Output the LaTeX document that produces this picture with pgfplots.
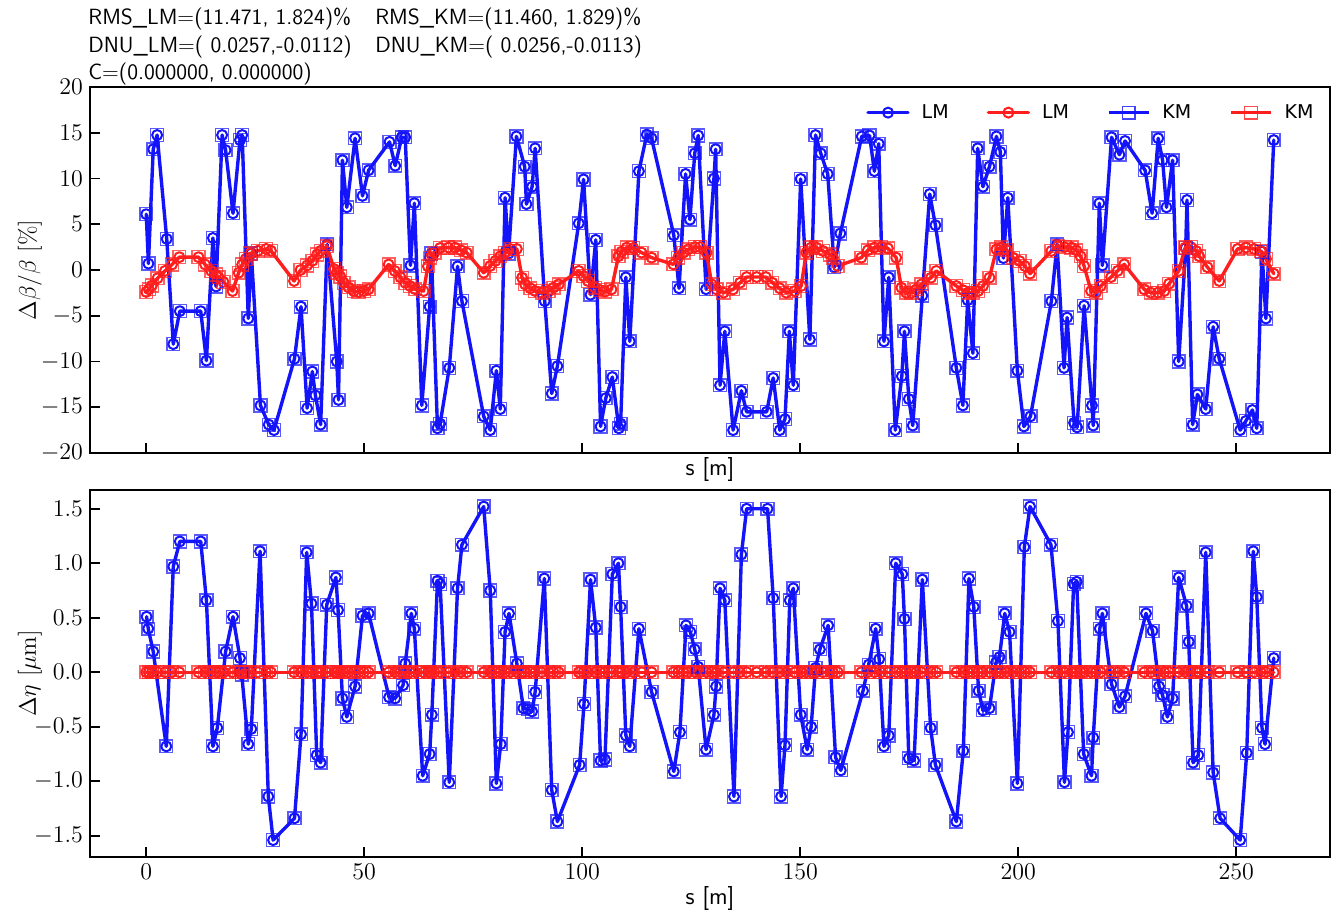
\documentclass[border=0pt]{standalone}
\usepackage{fontspec}
\usepackage{pgfplots}
\usepackage{pgfplotstable}
\pgfplotsset{compat=1.18}
\newfontfamily\legfont{DejaVu Sans}

\definecolor{lmblue}{RGB}{20,20,250}
\definecolor{lmred}{RGB}{255,30,30}

% beta-beating, blue set (s [m], dbeta/beta [%])
\pgfplotstableread{
s d
0.0 6.1
0.5 0.7
1.6 13.2
2.5 14.75
4.7 3.4
6.2 -8.1
7.7 -4.5
12.5 -4.5
13.8 -9.9
15.3 3.5
16.0 -1.8
17.4 14.75
18.2 13.1
19.9 6.2
21.5 14.2
22.0 14.75
23.4 -5.3
24.1 1.8
26.2 -14.8
28.1 -16.9
29.3 -17.5
34.0 -9.7
35.5 -4.0
36.9 -15.1
38.1 -11.1
38.8 -13.7
40.0 -16.9
41.5 2.8
43.7 -10.0
44.1 -14.2
45.0 12.0
46.0 6.85
47.9 14.4
49.6 8.1
51.0 10.9
55.8 14.0
57.1 11.4
58.6 14.5
59.4 14.5
60.6 0.5
61.5 7.3
63.2 -14.8
65.0 -4.0
65.4 1.8
66.8 -17.3
67.4 -16.8
69.5 -10.7
71.4 0.4
72.4 -3.4
77.4 -16.0
78.9 -17.5
80.3 -11.0
81.2 -15.2
82.3 7.9
83.1 1.8
84.9 14.6
86.8 11.3
87.2 7.2
88.5 9.1
89.2 13.3
91.4 -3.4
93.0 -13.5
94.3 -10.5
99.2 5.1
100.3 9.9
101.9 -2.7
103.1 3.3
104.2 -17.1
105.4 -14.0
106.9 -11.7
108.4 -17.3
108.8 -16.8
110.0 -0.8
110.9 -7.8
113.0 10.8
114.8 14.8
115.9 14.4
121.0 3.8
122.2 -2.0
123.7 10.5
124.7 5.5
125.8 12.75
126.6 14.7
128.4 -2.1
130.2 10.0
130.6 13.2
131.6 -12.6
132.7 -6.7
134.6 -17.5
136.5 -13.2
137.7 -15.5
142.3 -15.5
143.8 -11.8
145.3 -17.5
146.5 -16.3
147.5 -6.7
148.4 -12.6
150.1 9.95
152.2 -7.6
153.5 14.75
154.7 12.75
156.3 10.5
157.8 0.3
159.2 4.0
164.1 14.6
165.9 14.7
167.0 10.8
168.0 13.8
169.2 -7.8
170.3 -0.8
171.8 -17.5
173.3 -11.6
173.9 -6.7
174.9 -14.1
175.8 -17.0
178.0 -2.8
179.7 8.3
181.0 4.9
185.8 -10.7
187.3 -14.8
188.4 -3.3
189.6 -9.1
190.7 13.3
191.9 9.1
193.4 11.3
195.0 14.6
195.9 12.9
196.6 1.3
197.6 7.9
199.8 -11.0
201.3 -17.1
202.8 -16.0
207.6 -3.4
208.9 2.8
210.5 -10.7
211.2 -5.2
212.8 -16.7
213.5 -17.2
215.1 -3.9
216.9 -14.8
217.2 -17.0
218.6 7.3
219.3 0.5
221.4 14.5
223.2 12.6
224.5 14.1
229.1 10.9
230.7 6.2
232.1 14.4
233.1 12.0
234.0 6.85
235.4 12.0
236.8 -10.0
238.4 2.4
238.7 7.65
240.0 -16.9
241.1 -13.6
243.0 -15.2
244.7 -6.2
246.1 -9.7
250.9 -17.5
252.2 -16.5
253.7 -15.3
254.7 -17.3
255.9 2.0
256.8 -5.3
258.6 14.2
}\topblue

% beta-beating, red set
\pgfplotstableread{
s d
0.0 -2.4
0.6 -2.1
1.3 -1.7
2.6 -0.9
4.3 -0.1
5.9 0.6
7.6 1.4
12.0 1.4
13.5 0.6
14.9 -0.1
16.0 -0.5
16.6 -0.8
17.7 -1.3
19.8 -2.3
21.2 -0.3
22.0 0.6
22.8 1.2
23.8 1.8
25.6 2.1
27.5 2.3
28.6 2.1
33.9 -1.2
35.4 0.0
36.9 0.5
38.1 1.0
39.2 1.7
40.0 2.1
41.4 2.6
43.1 0.1
43.7 -0.3
44.5 -0.7
45.3 -1.4
46.4 -1.9
47.6 -2.3
48.7 -2.4
49.9 -2.3
51.0 -2.1
55.6 0.6
57.0 -0.1
58.3 -0.8
59.4 -1.4
60.5 -1.75
61.7 -2.1
63.6 -2.3
64.6 0.4
65.1 1.35
66.1 1.9
67.4 2.4
69.3 2.45
70.8 2.45
72.2 2.15
73.5 1.9
77.4 -0.3
78.9 0.44
80.1 1.0
81.2 1.5
82.3 1.9
83.5 2.3
85.0 2.3
86.2 -0.84
86.9 -1.57
88.1 -2.0
89.2 -2.3
90.7 -2.48
92.3 -2.3
93.4 -1.93
94.6 -1.57
99.2 -0.1
100.3 -0.66
101.3 -1.2
102.9 -1.93
104.1 -2.2
105.2 -2.37
106.7 -2.12
108.3 1.5
109.0 2.0
110.2 2.45
111.7 2.4
113.6 1.9
115.9 1.35
120.9 0.62
122.0 1.35
123.2 1.9
124.3 2.26
125.9 2.5
127.0 2.5
128.5 1.9
129.7 -1.57
130.8 -2.12
132.4 -2.48
134.6 -2.12
136.2 -1.39
137.7 -0.77
140.0 -0.77
142.1 -0.77
143.6 -1.39
145.3 -2.0
146.8 -2.48
148.7 -2.3
150.2 -1.75
151.4 1.9
152.5 2.45
153.7 2.45
155.2 2.08
156.8 1.7
157.5 1.35
158.6 0.44
164.0 1.35
165.5 2.15
167.0 2.45
168.6 2.5
170.1 2.37
172.0 1.35
173.2 -1.93
174.3 -2.48
175.5 -2.48
176.6 -2.12
177.8 -1.57
180.0 -0.84
181.2 -0.1
185.8 -1.75
187.3 -2.2
188.5 -2.48
189.6 -2.48
190.8 -2.3
191.9 -1.75
193.4 -0.84
195.0 2.26
196.1 2.45
197.3 2.2
198.8 1.35
200.3 0.98
201.5 0.44
202.7 -0.4
207.6 2.08
209.1 2.6
210.6 2.5
212.2 2.45
213.3 2.15
214.3 1.5
215.1 0.44
216.7 -2.3
217.8 -2.48
218.9 -1.75
221.3 -0.77
222.8 -0.1
224.3 0.62
228.9 -2.12
230.4 -2.48
232.0 -2.48
233.5 -2.3
234.6 -1.5
236.8 -0.1
238.3 2.45
239.6 2.5
240.8 2.08
241.5 1.5
243.4 0.3
246.1 -1.2
250.3 2.3
252.2 2.45
254.1 2.3
255.6 2.08
256.8 1.2
258.6 -0.4
}\topred

% dispersion error, blue set (s [m], d eta [um])
\pgfplotstableread{
s d
0.08 0.51
0.46 0.40
1.6 0.19
4.6 -0.68
6.2 0.97
7.7 1.20
12.5 1.20
13.8 0.66
15.3 -0.68
16.3 -0.51
18.2 0.19
19.9 0.51
21.5 0.13
21.9 -0.02
23.4 -0.66
24.1 -0.52
26.1 1.11
28.0 -1.14
29.1 -1.54
34.0 -1.34
35.5 -0.57
36.8 1.10
37.9 0.63
39.1 -0.76
40.0 -0.83
41.4 0.62
43.5 0.87
44.0 0.57
45.0 -0.24
46.0 -0.41
47.9 -0.13
49.6 0.52
51.0 0.54
55.7 -0.23
57.1 -0.24
58.9 -0.12
59.4 0.08
60.8 0.54
61.5 0.40
63.4 -0.95
65.0 -0.75
65.5 -0.39
66.8 0.84
67.4 0.81
69.5 -1.01
71.4 0.77
72.4 1.17
77.4 1.52
78.9 0.75
80.3 -1.02
81.3 -0.66
82.3 0.37
83.2 0.54
85.0 0.08
86.5 -0.33
87.5 -0.34
88.5 -0.36
89.2 -0.18
91.3 0.86
93.0 -1.08
94.3 -1.37
99.4 -0.85
100.4 -0.29
101.9 0.85
103.1 0.41
104.2 -0.81
105.2 -0.80
106.9 0.90
108.3 1.00
108.8 0.60
110.0 -0.58
110.9 -0.68
113.0 0.40
115.9 -0.18
121.0 -0.91
122.4 -0.55
123.8 0.43
124.8 0.37
125.8 0.21
126.6 0.05
128.4 -0.71
130.2 -0.39
130.7 -0.13
131.6 0.77
132.7 0.66
134.8 -1.14
136.5 1.08
137.7 1.50
142.5 1.50
143.8 0.68
145.6 -1.14
146.5 -0.67
147.6 0.66
148.4 0.77
150.1 -0.39
151.6 -0.71
152.5 -0.50
153.5 0.04
154.5 0.21
156.4 0.43
158.1 -0.78
159.3 -0.90
164.4 -0.17
165.7 0.07
167.3 0.40
168.1 0.12
169.2 -0.68
170.3 -0.58
171.9 1.00
173.4 0.90
173.9 0.49
174.9 -0.79
176.1 -0.81
178.0 0.85
179.9 -0.51
181.0 -0.85
185.8 -1.37
187.4 -0.72
188.7 0.86
189.8 0.60
190.9 -0.17
191.9 -0.35
193.4 -0.33
194.9 0.09
195.7 0.14
196.9 0.54
198.0 0.37
199.8 -1.02
201.4 1.15
202.7 1.52
207.5 1.17
209.1 0.47
210.6 -1.01
211.4 -0.55
212.7 0.81
213.4 0.83
215.0 -0.75
216.8 -0.95
217.2 -0.60
218.7 0.40
219.3 0.54
221.4 -0.11
223.2 -0.32
224.5 -0.22
229.3 0.54
230.8 0.38
232.3 -0.13
233.1 -0.21
234.2 -0.41
235.4 -0.24
236.8 0.87
238.6 0.61
239.1 0.28
240.1 -0.83
241.3 -0.76
243.0 1.10
244.7 -0.92
246.3 -1.34
250.9 -1.54
252.4 -0.74
253.9 1.11
254.7 0.69
255.9 -0.51
256.6 -0.66
258.6 0.13
}\botblue

% dispersion error, red set (zero everywhere)
\pgfplotstableread{
s d
0.0 0
0.6 0
1.3 0
2.6 0
4.3 0
5.9 0
7.6 0
12.0 0
13.5 0
14.9 0
16.0 0
16.6 0
17.7 0
19.8 0
21.2 0
22.0 0
22.8 0
23.8 0
25.6 0
27.5 0
28.6 0
33.9 0
35.4 0
36.9 0
38.1 0
39.2 0
40.0 0
41.4 0
43.1 0
43.7 0
44.5 0
45.3 0
46.4 0
47.6 0
48.7 0
49.9 0
51.0 0
55.6 0
57.0 0
58.3 0
59.4 0
60.5 0
61.7 0
63.6 0
64.6 0
65.1 0
66.1 0
67.4 0
69.3 0
70.8 0
72.2 0
73.5 0
77.4 0
78.9 0
80.1 0
81.2 0
82.3 0
83.5 0
85.0 0
86.2 0
86.9 0
88.1 0
89.2 0
90.7 0
92.3 0
93.4 0
94.6 0
99.2 0
100.3 0
101.3 0
102.9 0
104.1 0
105.2 0
106.7 0
108.3 0
109.0 0
110.2 0
111.7 0
113.6 0
115.9 0
120.9 0
122.0 0
123.2 0
124.3 0
125.9 0
127.0 0
128.5 0
129.7 0
130.8 0
132.4 0
134.6 0
136.2 0
137.7 0
140.0 0
142.1 0
143.6 0
145.3 0
146.8 0
148.7 0
150.2 0
151.4 0
152.5 0
153.7 0
155.2 0
156.8 0
157.5 0
158.6 0
164.0 0
165.5 0
167.0 0
168.6 0
170.1 0
172.0 0
173.2 0
174.3 0
175.5 0
176.6 0
177.8 0
180.0 0
181.2 0
185.8 0
187.3 0
188.5 0
189.6 0
190.8 0
191.9 0
193.4 0
195.0 0
196.1 0
197.3 0
198.8 0
200.3 0
201.5 0
202.7 0
207.6 0
209.1 0
210.6 0
212.2 0
213.3 0
214.3 0
215.1 0
216.7 0
217.8 0
218.9 0
221.3 0
222.8 0
224.3 0
228.9 0
230.4 0
232.0 0
233.5 0
234.6 0
236.8 0
238.3 0
239.6 0
240.8 0
241.5 0
243.4 0
246.1 0
250.3 0
252.2 0
254.1 0
255.6 0
256.8 0
258.6 0
}\botred

\pgfplotsset{
  ringaxis/.style={
    scale only axis, width=620pt,
    xmin=-12.9, xmax=271.5,
    axis line style={line width=1.3pt},
    tick align=inside, xtick pos=bottom, ytick pos=left,
    major tick length=5pt,
    major tick style={black, line width=0.9pt},
    xtick={0,50,...,250},
    tick label style={font=\fontsize{11.5}{13}\selectfont},
    label style={font=\fontsize{12}{14}\selectfont},
    xlabel={\sffamily s [m]},
    ylabel style={at={(axis description cs:-0.0484,0.5)}, anchor=center},
    legend image code/.code={\draw[mark repeat=2,mark phase=2,##1]
      plot coordinates {(0pt,0pt) (10pt,0pt) (20pt,0pt)};},
  },
  lmline/.style={line width=1.7pt, line join=round, line cap=round,
    mark=o, mark size=2.5pt,
    mark options={solid, fill=white, line width=1.0pt}},
  kmmark/.style={only marks, mark=square, mark size=3.2pt,
    mark options={draw=#1, draw opacity=0.7, fill=none, line width=0.7pt}},
}

\begin{document}
\begin{tikzpicture}
% upper panel: beta-beating
\begin{axis}[ringaxis, name=top, at={(0,202pt)}, anchor=south west,
    height=183pt, ymin=-20, ymax=20, ytick={-20,-15,...,20},
    xticklabels={},
    xlabel style={at={(axis description cs:0.5,0)}, anchor=center, yshift=-8.5pt},
    ylabel={$\Delta\beta/\beta$ [\%]},
    legend columns=4,
    legend style={draw=none, fill=none, at={(1,0.93)}, anchor=east,
      xshift=-6pt, inner sep=0pt,
      font=\legfont\fontsize{9.5}{11}\selectfont,
      /tikz/every odd column/.append style={column sep=4pt},
      /tikz/every even column/.append style={column sep=17pt}},
  ]
  \addplot[lmblue, lmline, forget plot] table[x=s, y=d] {\topblue};
  \addplot[lmred, lmline, forget plot] table[x=s, y=d] {\topred};
  \addplot[kmmark=lmblue, forget plot] table[x=s, y=d] {\topblue};
  \addplot[kmmark=lmred, forget plot] table[x=s, y=d] {\topred};
  \addlegendimage{lmblue, lmline}
  \addlegendentry{LM}
  \addlegendimage{lmred, lmline}
  \addlegendentry{LM}
  \addlegendimage{lmblue, line width=1.7pt, mark=square, mark size=3.2pt,
    mark options={solid, draw opacity=0.8, line width=0.7pt}}
  \addlegendentry{KM}
  \addlegendimage{lmred, line width=1.7pt, mark=square, mark size=3.2pt,
    mark options={solid, draw opacity=0.8, line width=0.7pt}}
  \addlegendentry{KM}
\end{axis}

% lower panel: dispersion
\begin{axis}[ringaxis, at={(0,0)}, anchor=south west,
    height=183.5pt, ymin=-1.695, ymax=1.672, ytick={-1.5,-1,...,1.5},
    yticklabel style={/pgf/number format/.cd, fixed, fixed zerofill, precision=1},
    xlabel style={at={(axis description cs:0.5,0)}, anchor=center, yshift=-20.5pt},
    ylabel={$\Delta\eta$ [$\mu$m]},
  ]
  \addplot[lmblue, lmline] table[x=s, y=d] {\botblue};
  \addplot[lmred, lmline] table[x=s, y=d] {\botred};
  \addplot[kmmark=lmblue] table[x=s, y=d] {\botblue};
  \addplot[kmmark=lmred] table[x=s, y=d] {\botred};
\end{axis}

% run summary above the upper panel
\node[anchor=south west, inner sep=0pt, xshift=-1pt, yshift=0.7pt,
      align=left, font=\sffamily\fontsize{11}{13.75}\selectfont]
  at (top.north west) {%
  \makebox[143.5pt][l]{RMS\_LM=(11.471, 1.824)\%}RMS\_KM=(11.460, 1.829)\%\\
  \makebox[143.5pt][l]{DNU\_LM=( 0.0257,-0.0112)}DNU\_KM=( 0.0256,-0.0113)\\
  C=(0.000000, 0.000000)};

\pgfresetboundingbox
\path[use as bounding box] (-45pt,-32.5pt) rectangle (625pt,428.5pt);
\end{tikzpicture}
\end{document}
